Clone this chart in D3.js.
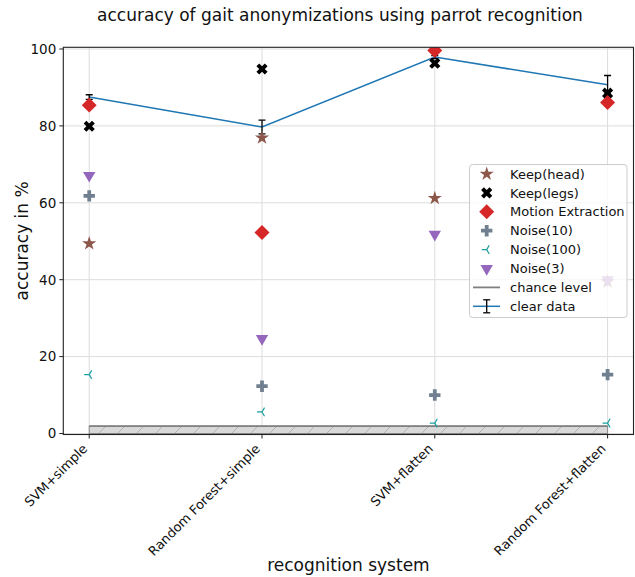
<!DOCTYPE html>
<html>
<head>
<meta charset="utf-8">
<script src="https://cdn.jsdelivr.net/npm/d3@7"></script>
<style>
  html, body { margin: 0; padding: 0; background: #fff; }
  svg { display: block; font-family: "DejaVu Sans", sans-serif; }
</style>
</head>
<body>
<svg id="chart" width="635" height="577"></svg>
<script>
// ---------------- data ----------------
const categories = ["SVM+simple", "Random Forest+simple", "SVM+flatten", "Random Forest+flatten"];
const keepHead = [49.4, 76.9, 61.2, 39.5];
const keepLegs = [79.9, 94.8, 96.3, 88.5];
const motionExtraction = [85.4, 52.3, 99.6, 86.1];
const noise10 = [61.8, 12.3, 10.0, 15.3];
const noise100 = [15.3, 5.6, 2.7, 2.7];
const noise3 = [67.1, 24.7, 51.8, 40.0];
const clearData = [87.5, 79.7, 97.9, 90.7];
const clearDataErr = [0.6, 1.8, 0.4, 2.4];
const chanceLevel = 1.9;
const yTicks = [0, 20, 40, 60, 80, 100];
const seriesNames = ["Keep(head)", "Keep(legs)", "Motion Extraction", "Noise(10)", "Noise(100)", "Noise(3)", "chance level", "clear data"];

// ---------------- layout ----------------
const svg = d3.select("#chart");
const axL = 63.3, axR = 633.5, axT = 47.3, axB = 434.5;
const x = d3.scaleLinear().domain([-0.15, 3.15]).range([axL, axR]);
const y = d3.scaleLinear().domain([-0.26, 100.44]).range([axB, axT]);

const gridColor = "#dcdcdc";

// defs: clip + hatch
const defs = svg.append("defs");
defs.append("clipPath").attr("id", "axclip")
  .append("rect").attr("x", axL).attr("y", axT).attr("width", axR - axL).attr("height", axB - axT);
const pat = defs.append("pattern").attr("id", "hatch").attr("patternUnits", "userSpaceOnUse")
  .attr("width", 19).attr("height", 19);
pat.append("rect").attr("width", 19).attr("height", 19).attr("fill", "#d8d8d8");
pat.append("path").attr("d", "M0,19 L19,0 M-4,4 L4,-4 M15,23 L23,15").attr("stroke", "#a8a8a8").attr("stroke-width", 0.8);

// grid
const grid = svg.append("g");
grid.selectAll("line.hy").data(yTicks).join("line")
  .attr("x1", axL).attr("x2", axR).attr("y1", d => y(d)).attr("y2", d => y(d))
  .attr("stroke", gridColor).attr("stroke-width", 1);
grid.selectAll("line.vx").data(categories).join("line")
  .attr("y1", axT).attr("y2", axB).attr("x1", (d, i) => x(i)).attr("x2", (d, i) => x(i))
  .attr("stroke", gridColor).attr("stroke-width", 1);

const plot = svg.append("g").attr("clip-path", "url(#axclip)");

// chance level region
plot.append("rect")
  .attr("x", x(0)).attr("width", x(categories.length - 1) - x(0))
  .attr("y", y(chanceLevel)).attr("height", y(0) - y(chanceLevel))
  .attr("fill", "url(#hatch)").attr("stroke", "#8a8a8a").attr("stroke-width", 1);
plot.append("line")
  .attr("x1", x(0)).attr("x2", x(categories.length - 1))
  .attr("y1", y(chanceLevel)).attr("y2", y(chanceLevel))
  .attr("stroke", "#808080").attr("stroke-width", 1.8);

// clear data line + error bars
const blue = "#1f77b4";
plot.append("path").datum(clearData)
  .attr("d", d3.line().x((d, i) => x(i)).y(d => y(d)))
  .attr("fill", "none").attr("stroke", blue).attr("stroke-width", 1.5);
const eb = plot.append("g").attr("stroke", "#000").attr("stroke-width", 1.3);
clearData.forEach((v, i) => {
  const cx = x(i), y1 = y(v - clearDataErr[i]), y2 = y(v + clearDataErr[i]);
  eb.append("line").attr("x1", cx).attr("x2", cx).attr("y1", y1).attr("y2", y2);
  eb.append("line").attr("x1", cx - 3.5).attr("x2", cx + 3.5).attr("y1", y1).attr("y2", y1);
  eb.append("line").attr("x1", cx - 3.5).attr("x2", cx + 3.5).attr("y1", y2).attr("y2", y2);
});

// marker definitions
const triLeftPath = (s) => `M0,0 L${-s},0 M0,0 L${s * 0.5},${-s * 0.866} M0,0 L${s * 0.5},${s * 0.866}`;
const markers = {
  "Keep(head)": { data: keepHead, draw: g => g.append("path").attr("d", d3.symbol(d3.symbolStar, 62)()).attr("fill", "#8c564b") },
  "Keep(legs)": { data: keepLegs, draw: g => g.append("path").attr("d", d3.symbol(d3.symbolCross, 78)()).attr("transform", "rotate(45)").attr("fill", "#000") },
  "Motion Extraction": { data: motionExtraction, draw: g => g.append("path").attr("d", d3.symbol(d3.symbolSquare, 112)()).attr("transform", "rotate(45)").attr("fill", "#d62728") },
  "Noise(10)": { data: noise10, draw: g => g.append("path").attr("d", d3.symbol(d3.symbolCross, 72)()).attr("fill", "#708090") },
  "Noise(100)": { data: noise100, draw: g => g.append("path").attr("d", triLeftPath(5)).attr("fill", "none").attr("stroke", "#1a9e9e").attr("stroke-width", 1.2) },
  "Noise(3)": { data: noise3, draw: g => g.append("path").attr("d", d3.symbol(d3.symbolTriangle, 66)()).attr("transform", "rotate(180)").attr("fill", "#9467bd") }
};

Object.keys(markers).forEach(name => {
  const m = markers[name];
  m.data.forEach((v, i) => {
    const g = plot.append("g").attr("transform", `translate(${x(i)},${y(v)})`);
    m.draw(g);
  });
});

// spines
svg.append("rect").attr("x", axL).attr("y", axT).attr("width", axR - axL).attr("height", axB - axT)
  .attr("fill", "none").attr("stroke", "#222").attr("stroke-width", 1.1);

// y axis ticks
const yax = svg.append("g");
yTicks.forEach(t => {
  yax.append("line").attr("x1", axL - 4).attr("x2", axL).attr("y1", y(t)).attr("y2", y(t)).attr("stroke", "#222").attr("stroke-width", 1);
  yax.append("text").attr("x", axL - 7).attr("y", y(t)).attr("dy", "0.36em")
    .attr("text-anchor", "end").attr("font-size", 13.5).attr("fill", "#111").text(t);
});
// x axis ticks
const xax = svg.append("g");
categories.forEach((c, i) => {
  xax.append("line").attr("x1", x(i)).attr("x2", x(i)).attr("y1", axB).attr("y2", axB + 4).attr("stroke", "#222").attr("stroke-width", 1);
  xax.append("text").attr("transform", `translate(${x(i) - 1},${axB + 15}) rotate(-45)`)
    .attr("text-anchor", "end").attr("font-size", 13).attr("fill", "#111").text(c);
});

// labels
svg.append("text").attr("x", 340).attr("y", 21).attr("text-anchor", "middle").attr("font-size", 17).attr("fill", "#111")
  .text("accuracy of gait anonymizations using parrot recognition");
svg.append("text").attr("x", (axL + axR) / 2).attr("y", 571).attr("text-anchor", "middle").attr("font-size", 17).attr("fill", "#111")
  .text("recognition system");
svg.append("text").attr("transform", `translate(28,${(axT + axB) / 2}) rotate(-90)`).attr("text-anchor", "middle")
  .attr("font-size", 17).attr("fill", "#111").text("accuracy in %");

// legend
const lg = svg.append("g");
lg.append("rect").attr("x", 469.5).attr("y", 164.5).attr("width", 157.5).attr("height", 153).attr("rx", 3)
  .attr("fill", "#fff").attr("fill-opacity", 0.8).attr("stroke", "#cccccc").attr("stroke-width", 1);
const rowY = i => 174 + i * 18.9;
const mx = 486.7, tx = 510;
Object.keys(markers).forEach((name, i) => {
  const g = lg.append("g").attr("transform", `translate(${mx},${rowY(i)})`);
  markers[name].draw(g);
});
// chance level handle
lg.append("line").attr("x1", 473).attr("x2", 500).attr("y1", rowY(6)).attr("y2", rowY(6)).attr("stroke", "#808080").attr("stroke-width", 1.8);
// clear data handle
lg.append("line").attr("x1", 473).attr("x2", 500).attr("y1", rowY(7)).attr("y2", rowY(7)).attr("stroke", blue).attr("stroke-width", 1.5);
lg.append("line").attr("x1", mx).attr("x2", mx).attr("y1", rowY(7) - 6.5).attr("y2", rowY(7) + 6.5).attr("stroke", "#000").attr("stroke-width", 1.3);
lg.append("line").attr("x1", mx - 3.5).attr("x2", mx + 3.5).attr("y1", rowY(7) - 6.5).attr("y2", rowY(7) - 6.5).attr("stroke", "#000").attr("stroke-width", 1.3);
lg.append("line").attr("x1", mx - 3.5).attr("x2", mx + 3.5).attr("y1", rowY(7) + 6.5).attr("y2", rowY(7) + 6.5).attr("stroke", "#000").attr("stroke-width", 1.3);
seriesNames.forEach((n, i) => {
  lg.append("text").attr("x", tx).attr("y", rowY(i)).attr("dy", "0.36em").attr("font-size", 13).attr("fill", "#111").text(n);
});
</script>
</body>
</html>
